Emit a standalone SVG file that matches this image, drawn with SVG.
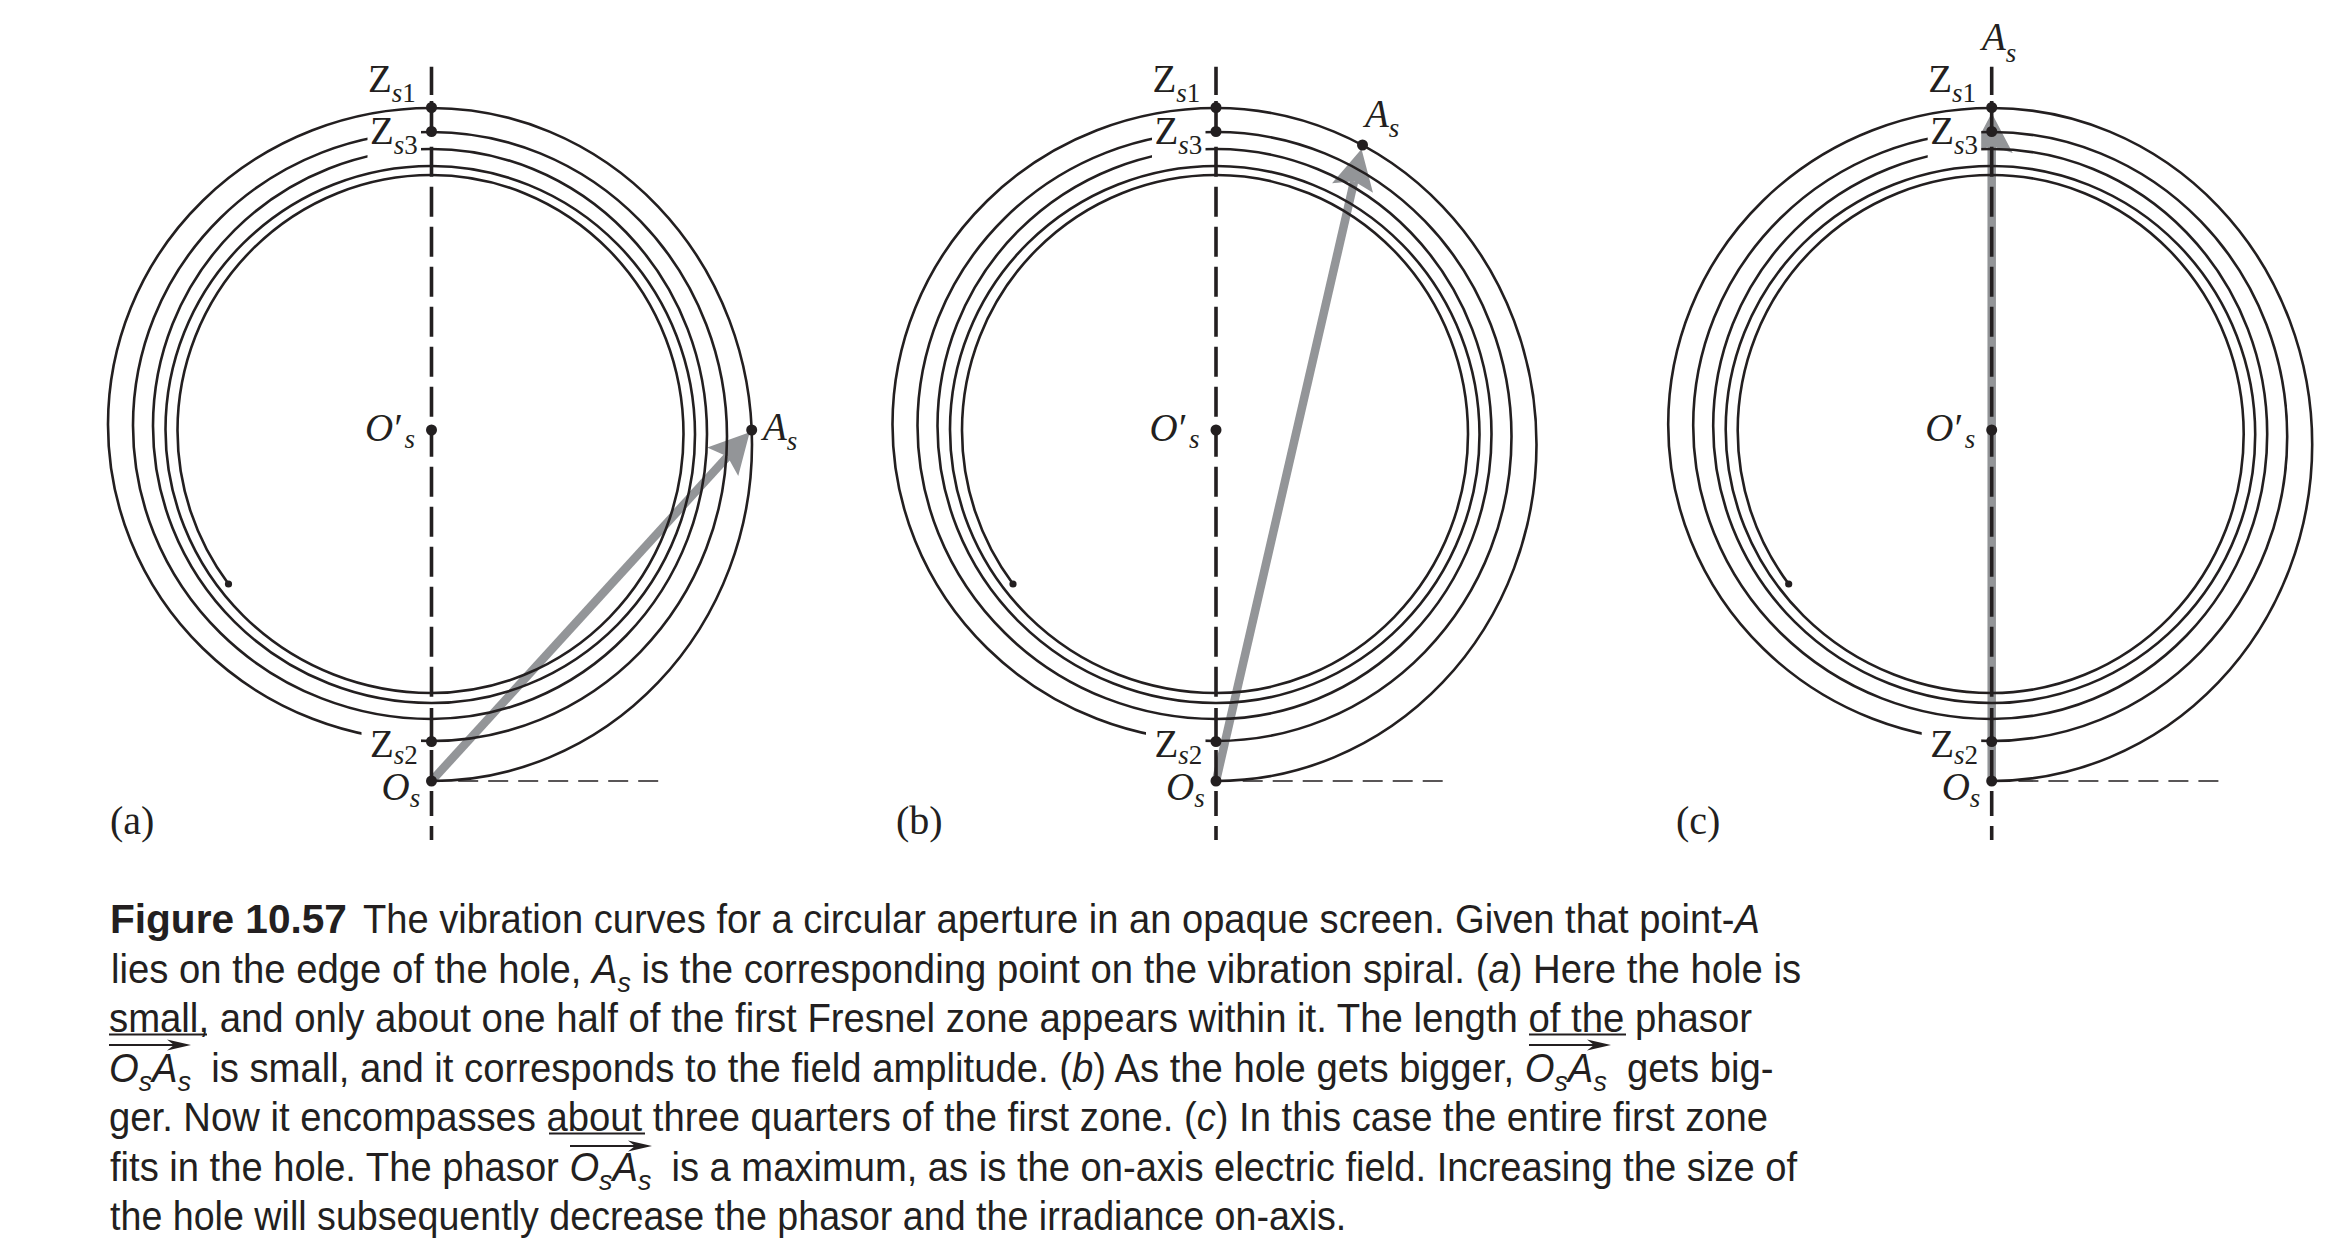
<svg xmlns="http://www.w3.org/2000/svg" width="2337" height="1258" viewBox="0 0 2337 1258">
<style>
.sp{fill:none;stroke:#231f20;stroke-width:2.6}
.ax{stroke:#231f20;stroke-width:3.6;fill:none}
.hd{stroke:#231f20;stroke-width:1.6;stroke-dasharray:20 10;fill:none}
.dot{fill:#231f20}
.end{fill:#231f20}
.ko{fill:#ffffff}
.ph{fill:#939598}
.phs{stroke:#939598;stroke-width:8.5;fill:none}
.lb{font-family:"Liberation Serif","Times New Roman",serif;font-size:39px;fill:#231f20}
.sub{font-size:27px}
.it{font-style:italic}
.pl{font-family:"Liberation Serif","Times New Roman",serif;font-size:40px;fill:#231f20}
.cap{font-family:"Liberation Sans",Arial,sans-serif;font-size:40px;fill:#231f20}
.capb{font-weight:bold}
.csub{font-size:28px}
.rule{stroke:#231f20;stroke-width:2;fill:none}
.car{fill:#231f20}
</style>
<defs>
<polygon id="head" points="0,0 -40,-21 -33,0 -40,21"/>
<polygon id="chead" points="0,0 -24,-5.5 -17,0 -24,5.5"/>
<g id="common">
<path class="sp" d="M0,781 A320.5,336.5 0 0 0 320.5,444.5 A320.5,336.5 0 0 0 0,108 A323.5,316.5 0 0 0 -323.5,424.5 A323.5,316.5 0 0 0 0,741 A295.5,304.5 0 0 0 295.5,436.5 A295.5,304.5 0 0 0 0,132 A298.5,293.5 0 0 0 -298.5,425.5 A298.5,293.5 0 0 0 0,719 A275.5,285 0 0 0 275.5,434 A275.5,285 0 0 0 0,149 A278.5,277 0 0 0 -278.5,426 A278.5,277 0 0 0 0,703 A263.5,268.5 0 0 0 263.5,434.5 A263.5,268.5 0 0 0 0,166 A266,263.5 0 0 0 -266,429.5 A266,263.5 0 0 0 0,693 A252,259 0 0 0 252,434 A252,259 0 0 0 0,175 A254,255.5 0 0 0 -254,430.5 A254,255.5 0 0 0 -203,584"/>
<circle class="end" cx="-203" cy="584" r="3.6"/>
<rect class="ko" x="-64" y="117" width="53.5" height="43"/>
<rect class="ko" x="-70" y="727" width="59.5" height="41"/>
<line class="hd" x1="26.7" y1="781" x2="226.7" y2="781"/>
<path class="ax" d="M0,66.7V95 M0,101V131.7 M0,708V746 M0,750V781 M0,791V816 M0,826V840"/>
<line class="ax" x1="0" y1="146.7" x2="0" y2="696.7" stroke-dasharray="30 10"/>
<circle class="dot" cx="0" cy="107.5" r="5.5"/>
<circle class="dot" cx="0" cy="131.5" r="5.5"/>
<circle class="dot" cx="0" cy="430" r="5.5"/>
<circle class="dot" cx="0" cy="741.5" r="5.5"/>
<circle class="dot" cx="0" cy="781" r="5.5"/>
<text class="lb" x="-63.5" y="92">Z<tspan class="sub it" dy="9.5">s</tspan><tspan class="sub">1</tspan></text>
<text class="lb" x="-61.5" y="144">Z<tspan class="sub it" dy="9.5">s</tspan><tspan class="sub">3</tspan></text>
<text class="lb" x="-61.5" y="756.5">Z<tspan class="sub it" dy="7.5">s</tspan><tspan class="sub">2</tspan></text>
<text class="lb it" x="-50" y="800">O<tspan class="sub" dy="7">s</tspan></text>
<text class="lb it" x="-66.5" y="441">O</text>
<text class="lb it" x="-39.5" y="441">′</text>
<text class="lb it sub" x="-27" y="448">s</text>
</g>
</defs>

<g id="connectors">
<g id="phasor-a" transform="translate(431.5,0)">
<line class="phs" x1="0" y1="781" x2="296" y2="456.6"/>
<use href="#head" class="ph" transform="translate(318.2,432.2) rotate(-47.63)"/>
</g>
<g id="phasor-b" transform="translate(1216,0)">
<line class="phs" x1="0" y1="781" x2="138.1" y2="181.2"/>
<use href="#head" class="ph" transform="translate(145.5,149) rotate(-77.03)"/>
</g>
<g id="phasor-c" transform="translate(1991.7,0)">
<line class="phs" x1="0" y1="781" x2="0" y2="146"/>
<use href="#head" class="ph" transform="translate(0,113) rotate(-90)"/>
</g>
</g>

<g id="panel-a" transform="translate(431.5,0)">
<use href="#common"/>
<g id="As-a"><circle class="dot" cx="320.2" cy="430" r="5.5"/>
<text class="lb it" x="331.5" y="440">A<tspan class="sub" dy="10">s</tspan></text></g>
</g>
<g id="panel-b" transform="translate(1216,0)">
<use href="#common"/>
<g id="As-b"><circle class="dot" cx="146.5" cy="145" r="5.5"/>
<text class="lb it" x="149" y="126.7">A<tspan class="sub" dy="10">s</tspan></text></g>
</g>
<g id="panel-c" transform="translate(1991.7,0)">
<use href="#common"/>
<g id="As-c"><text class="lb it" x="-9.7" y="50">A<tspan class="sub" dy="11.5">s</tspan></text></g>
</g>

<g id="panel-labels">
<text class="pl" x="110" y="834">(a)</text>
<text class="pl" x="896" y="834">(b)</text>
<text class="pl" x="1676" y="834">(c)</text>
</g>

<g id="caption">
<text class="cap capb" transform="translate(110,933) scale(1.015,1)">Figure 10.57</text>
<text class="cap" transform="translate(363,933) scale(0.952,1)">The vibration curves for a circular aperture in an opaque screen. Given that point-<tspan class="it">A</tspan></text>
<text class="cap" transform="translate(111,982.5) scale(0.9573,1)">lies on the edge of the hole, <tspan class="it">A</tspan><tspan class="it csub" dy="9">s</tspan><tspan dy="-9"> is the corresponding point on the vibration spiral. (</tspan><tspan class="it">a</tspan>) Here the hole is</text>
<text class="cap" transform="translate(109,1032) scale(0.9578,1)">small, and only about one half of the first Fresnel zone appears within it. The length of the phasor</text>
<text class="cap" transform="translate(109,1081.5) scale(0.9561,1)"><tspan class="it">O</tspan><tspan class="it csub" dy="9">s</tspan><tspan class="it" dy="-9">A</tspan><tspan class="it csub" dy="9">s</tspan><tspan dy="-9" dx="10"> is small, and it corresponds to the field amplitude. (</tspan><tspan class="it">b</tspan>) As the hole gets bigger, <tspan class="it">O</tspan><tspan class="it csub" dy="9">s</tspan><tspan class="it" dy="-9">A</tspan><tspan class="it csub" dy="9">s</tspan><tspan dy="-9" dx="10"> gets big-</tspan></text>
<text class="cap" transform="translate(109,1131) scale(0.9559,1)">ger. Now it encompasses about three quarters of the first zone. (<tspan class="it">c</tspan>) In this case the entire first zone</text>
<text class="cap" transform="translate(110,1180.5) scale(0.9538,1)">fits in the hole. The phasor <tspan class="it">O</tspan><tspan class="it csub" dy="9">s</tspan><tspan class="it" dy="-9">A</tspan><tspan class="it csub" dy="9">s</tspan><tspan dy="-9" dx="10"> is a maximum, as is the on-axis electric field. Increasing the size of</tspan></text>
<text class="cap" transform="translate(110,1230) scale(0.941,1)">the hole will subsequently decrease the phasor and the irradiance on-axis.</text>

<g id="caption-rules">
<line class="rule" x1="109" y1="1034.5" x2="207" y2="1034.5"/>
<line class="rule" x1="1529" y1="1034.5" x2="1626" y2="1034.5"/>
<line class="rule" x1="549" y1="1133.5" x2="645" y2="1133.5"/>
<line class="rule" x1="109" y1="1045" x2="175" y2="1045" stroke-width="2.6"/>
<use href="#chead" class="car" transform="translate(191,1045)"/>
<line class="rule" x1="1529" y1="1045" x2="1595" y2="1045" stroke-width="2.6"/>
<use href="#chead" class="car" transform="translate(1611,1045)"/>
<line class="rule" x1="570" y1="1146" x2="636" y2="1146" stroke-width="2.6"/>
<use href="#chead" class="car" transform="translate(652,1146)"/>
</g>
</g>
</svg>
